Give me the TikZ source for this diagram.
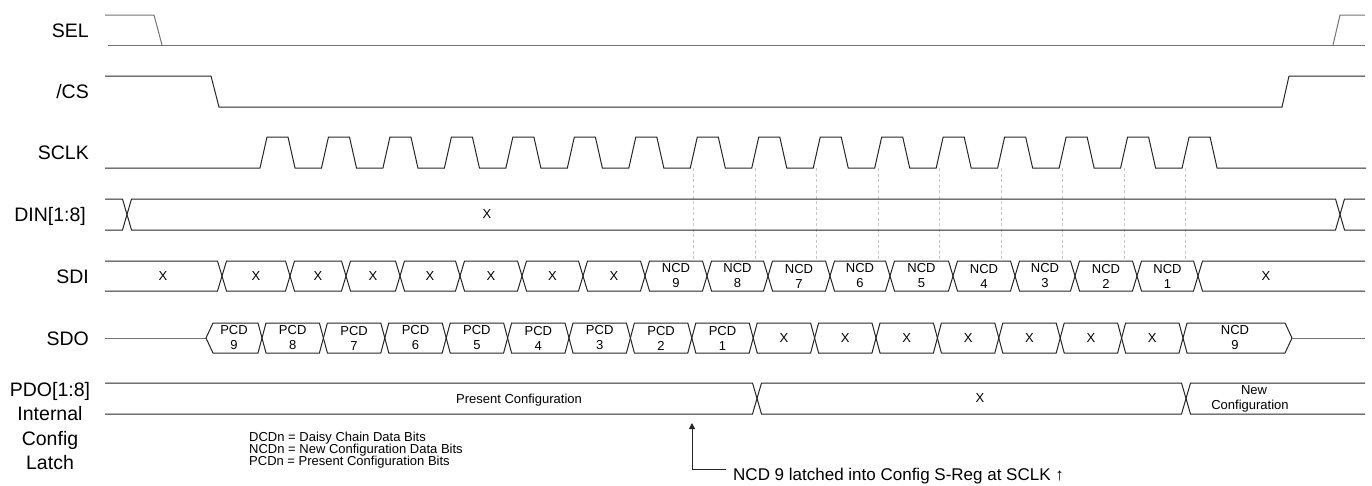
\documentclass[tikz,border=0pt]{standalone}
\usepackage{fontspec}
\setmainfont{Liberation Sans}
\usetikzlibrary{arrows.meta}
\begin{document}
\begin{tikzpicture}[x=1pt,y=-1pt,
  sig/.style={line width=1pt,draw=black!85,line join=miter},
  selsig/.style={line width=1pt,draw=black!55},
  dashln/.style={line width=0.8pt,draw=black!22,dash pattern=on 3pt off 2.5pt},
  lbl/.style={font=\fontsize{19.5}{23}\selectfont,anchor=base east,inner sep=0pt},
  lblc/.style={font=\fontsize{19.5}{23}\selectfont,anchor=base,inner sep=0pt},
  bl/.style={font=\fontsize{13}{15}\selectfont,align=center,inner sep=0pt},
  leg/.style={font=\fontsize{13}{15}\selectfont,anchor=base west,inner sep=0pt},
  ann/.style={font=\fontsize{17}{20}\selectfont,anchor=base west,inner sep=0pt}]
\useasboundingbox (0,0) rectangle (1372,485);

% ---------- signal names ----------
\node[lbl] (lSEL)  at (89,37)  {SEL};
\node[lbl] (lCS)   at (89,98.5)  {/CS};
\node[lbl] (lSCLK) at (89,159.5) {SCLK};
\node[lbl] (lDIN)  at (86,221.5) {DIN[1:8]};
\node[lbl] (lSDI)  at (89,283) {SDI};
\node[lbl] (lSDO)  at (89,345) {SDO};
\node[lblc] (lPDO) at (50,396) {PDO[1:8]};
\node[lblc] (lInt) at (50,420.5) {Internal};
\node[lblc] (lCfg) at (50,445) {Config};
\node[lblc] (lLat) at (50,469.5) {Latch};

% ---------- SEL ----------
\draw[selsig] (105,15) -- (154,15) -- (162,45);
\draw[selsig] (108,45) -- (1365,45);
\draw[selsig] (1333,45) -- (1340,15) -- (1365,15);

% ---------- /CS ----------
\draw[sig] (105,76) -- (211,76) -- (219,107) -- (1282,107) -- (1289,76) -- (1365,76);

% ---------- SCLK ----------
\draw[sig] (105,168) \foreach \k in {0,...,15}{
  -- ({260+61.47*\k},168) -- ({267+61.47*\k},137) -- ({288+61.47*\k},137) -- ({295+61.47*\k},168)}
  -- (1366,168);

% ---------- dashed guides ----------
\foreach \k in {7,...,15}
  \draw[dashln] ({263.5+61.47*\k},168) -- ({263.5+61.47*\k},261);

% ---------- DIN ----------
\draw[sig] (105,199) -- (122.5,199) -- (131.5,230) -- (1335.5,230) -- (1344.5,199) -- (1365,199);
\draw[sig] (105,230) -- (122.5,230) -- (131.5,199) -- (1335.5,199) -- (1344.5,230) -- (1365,230);
\node[bl] (tDIN) at (487,214.5) {X};

% ---------- SDI ----------
\draw[sig] (105,261) -- (217.5,261) -- (222,276) -- (217.5,291) -- (105,291);
\node[bl] (tSDI0) at (163,276) {X};
\foreach \a/\b/\t [count=\i] in {222/290/X,290/346/X,346/400/X,400/460/X,460/522/X,522/583/X,583/645/X,
    645/707/NCD\\9,707/768/NCD\\8,768/830/NCD\\7,830/890/NCD\\6,890/953/NCD\\5,
    953/1015/NCD\\4,1015/1075/NCD\\3,1075/1137/NCD\\2,1137/1198/NCD\\1}{
  \draw[sig] (\a,276) -- ({\a+4.5},261) -- ({\b-4.5},261) -- (\b,276) -- ({\b-4.5},291) -- ({\a+4.5},291) -- cycle;
  \node[bl] (tSDI\i) at ({(\a+\b)/2},276) {\t};
}
\draw[sig] (1365,261) -- (1202.5,261) -- (1198,276) -- (1202.5,291) -- (1365,291);
\node[bl] (tSDIe) at (1266,276) {X};

% ---------- SDO ----------
\draw[selsig] (105,338) -- (206,338);
\draw[sig] (206,338) -- (213,323) -- (258,323) -- (262,338) -- (258,353) -- (213,353) -- cycle;
\node[bl] (tSDO0) at (234,338) {PCD\\9};
\foreach \t [count=\i from 0] in {PCD\\8,PCD\\7,PCD\\6,PCD\\5,PCD\\4,PCD\\3,PCD\\2,PCD\\1,X,X,X,X,X,X,X}{
  \pgfmathsetmacro\a{262+61.4*\i}
  \pgfmathsetmacro\b{262+61.4*(\i+1)}
  \draw[sig] (\a,338) -- ({\a+4},323) -- ({\b-4},323) -- (\b,338) -- ({\b-4},353) -- ({\a+4},353) -- cycle;
  \node[bl] (tSDO\i) at ({(\a+\b)/2},338) {\t};
}
\draw[sig] (1183,338) -- (1187,323) -- (1285,323) -- (1292,338) -- (1285,353) -- (1187,353) -- cycle;
\node[bl] (tSDOe) at (1235,338) {NCD\\9};
\draw[selsig] (1292,338) -- (1365,338);

% ---------- PDO ----------
\draw[sig] (105,383) -- (752.5,383) -- (761.5,414) -- (1181.5,414) -- (1190.5,383) -- (1365,383);
\draw[sig] (105,414) -- (752.5,414) -- (761.5,383) -- (1181.5,383) -- (1190.5,414) -- (1365,414);
\node[bl,anchor=base] (tPres) at (519,403) {Present Configuration};
\node[bl] (tPX) at (980,398.5) {X};
\node[bl,anchor=base] (tNew1) at (1254,394.5) {New};
\node[bl,anchor=base] (tNew2) at (1250,409.5) {Configuration};

% ---------- legend ----------
\node[leg] (leg1) at (249,441.5) {DCDn = Daisy Chain Data Bits};
\node[leg] (leg2) at (249,453.5) {NCDn = New Configuration Data Bits};
\node[leg] (leg3) at (249,465.5) {PCDn = Present Configuration Bits};

% ---------- annotation ----------
\node[ann] (annot) at (733,480.5) {NCD 9 latched into Config S-Reg at SCLK ↑};
\coordinate (arrTip) at (692,423);
\coordinate (arrCorner) at (692,469);
\coordinate (arrStart) at ([xshift=-7pt]annot.base west |- arrCorner);
\draw[line width=1pt,draw=black!85,-{Triangle[width=6pt,length=6pt]}] (arrStart) -- (arrCorner) -- (arrTip);
\end{tikzpicture}
\end{document}
